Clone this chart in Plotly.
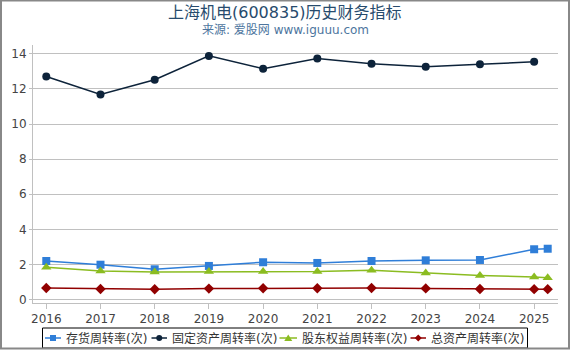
import plotly.graph_objects as go

# ---- data ----
x_periods = [2016, 2017, 2018, 2019, 2020, 2021, 2022, 2023, 2024, 2025, 2025.25]
tick_years = [2016, 2017, 2018, 2019, 2020, 2021, 2022, 2023, 2024, 2025]
inventory_turnover = [2.20, 1.99, 1.73, 1.92, 2.13, 2.09, 2.20, 2.24, 2.26, 2.87, 2.90]
fixed_asset_turnover = [12.71, 11.68, 12.52, 13.88, 13.15, 13.73, 13.43, 13.26, 13.41, 13.54, None]
equity_turnover = [1.84, 1.63, 1.58, 1.60, 1.60, 1.60, 1.68, 1.52, 1.38, 1.29, 1.25]
total_asset_turnover = [0.66, 0.61, 0.59, 0.63, 0.65, 0.65, 0.66, 0.64, 0.61, 0.60, 0.60]

series_names = ["存货周转率(次)", "固定资产周转率(次)", "股东权益周转率(次)", "总资产周转率(次)"]
series_colors = ["#2f7ed8", "#0d233a", "#8bbc21", "#910000"]
series_symbols = ["square", "circle", "triangle-up", "diamond"]
series_sizes = [8, 8, 9, 8]
series_values = [inventory_turnover, fixed_asset_turnover, equity_turnover, total_asset_turnover]

title_text = "上海机电(600835)历史财务指标"
subtitle_text = "来源: 爱股网 www.iguuu.com"

# ---- layout geometry ----
W, H = 570, 350
ML, MR, MT, MB = 33, 12, 45, 47
PW, PH = W - ML - MR, H - MT - MB

def px(x):
    return (x - ML) / PW

def py(y):
    return (H - MB - y) / PH

FONT = "DejaVu Sans, Noto Sans CJK SC, sans-serif"

fig = go.Figure()
for name, vals, col, sym, sz in zip(series_names, series_values, series_colors, series_symbols, series_sizes):
    fig.add_trace(go.Scatter(
        x=x_periods, y=vals, name=name, mode="lines+markers",
        line=dict(color=col, width=1.5),
        marker=dict(color=col, symbol=sym, size=sz, line=dict(width=0)),
        connectgaps=False, showlegend=False,
    ))

# ---- manual legend (one row, bordered box) ----
leg_y = 338
leg_items = [  # (line x0, line x1, text x)
    (45, 61, 63.5),
    (151.5, 167, 170),
    (279.5, 297, 300),
    (410.5, 426, 428.5),
]
shapes = [
    dict(type="rect", xref="paper", yref="paper",
         x0=px(42.5), x1=px(527.5), y0=py(348), y1=py(328),
         line=dict(color="#000", width=1), fillcolor="white", layer="above"),
]
annotations = []
for (lx0, lx1, tx), name, col, sym in zip(leg_items, series_names, series_colors, series_symbols):
    cx = (lx0 + lx1) / 2
    shapes.append(dict(type="line", xref="paper", yref="paper",
                       x0=px(lx0), x1=px(lx1), y0=py(leg_y), y1=py(leg_y),
                       line=dict(color=col, width=2), opacity=0.75, layer="above"))
    r = 3
    if sym == "square":
        shapes.append(dict(type="rect", xref="paper", yref="paper",
                           x0=px(cx - r), x1=px(cx + r), y0=py(leg_y + r), y1=py(leg_y - r),
                           line=dict(width=0), fillcolor=col, layer="above"))
    elif sym == "circle":
        shapes.append(dict(type="circle", xref="paper", yref="paper",
                           x0=px(cx - r), x1=px(cx + r), y0=py(leg_y + r), y1=py(leg_y - r),
                           line=dict(width=0), fillcolor=col, layer="above"))
    elif sym == "triangle-up":
        path = "M {} {} L {} {} L {} {} Z".format(
            px(cx), py(leg_y - 3.5), px(cx + 4), py(leg_y + 3), px(cx - 4), py(leg_y + 3))
        shapes.append(dict(type="path", xref="paper", yref="paper", path=path,
                           line=dict(width=0), fillcolor=col, layer="above"))
    else:
        path = "M {} {} L {} {} L {} {} L {} {} Z".format(
            px(cx), py(leg_y - 3.5), px(cx + 3.5), py(leg_y), px(cx), py(leg_y + 3.5), px(cx - 3.5), py(leg_y))
        shapes.append(dict(type="path", xref="paper", yref="paper", path=path,
                           line=dict(width=0), fillcolor=col, layer="above"))
    annotations.append(dict(text=name, xref="paper", yref="paper", x=px(tx), y=py(leg_y),
                            xanchor="left", yanchor="middle", showarrow=False,
                            font=dict(family=FONT, size=12, color="#333")))

annotations += [
    dict(text=title_text, xref="paper", yref="paper", x=px(285), y=py(12),
         xanchor="center", yanchor="middle", showarrow=False,
         font=dict(family=FONT, size=16, color="#274b6d")),
    dict(text=subtitle_text, xref="paper", yref="paper", x=px(285), y=py(30.5),
         xanchor="center", yanchor="middle", showarrow=False,
         font=dict(family=FONT, size=12, color="#4d759e")),
]

# outer frame
shapes.append(dict(type="rect", xref="paper", yref="paper",
                   x0=px(1), x1=px(569), y0=py(348.5), y1=py(0.5),
                   line=dict(color="#888", width=2), fillcolor="rgba(0,0,0,0)", layer="above"))

fig.update_layout(
    width=W, height=H,
    margin=dict(l=ML, r=MR, t=MT, b=MB, pad=0, autoexpand=False),
    paper_bgcolor="white", plot_bgcolor="white",
    font=dict(family=FONT, size=12, color="#444"),
    showlegend=False,
    xaxis=dict(
        range=[2015.755, 2025.44], tickmode="array", tickvals=tick_years,
        ticktext=[str(y) for y in tick_years],
        showgrid=False, zeroline=False,
        showline=True, linecolor="#C0C0C0", linewidth=1,
        ticks="outside", ticklen=5, tickcolor="#C0C0C0",
        tickfont=dict(size=12, color="#444"),
    ),
    yaxis=dict(
        range=[-0.19, 14.5], tickmode="array", tickvals=list(range(0, 15, 2)),
        showgrid=True, gridcolor="#C0C0C0", gridwidth=1, zeroline=False,
        showline=True, linecolor="#C0C0C0", linewidth=1,
        ticks="outside", ticklen=3, tickcolor="#C0C0C0",
        tickfont=dict(size=12, color="#444"),
    ),
    annotations=annotations,
    shapes=shapes,
)

fig.write_html("out.html")
